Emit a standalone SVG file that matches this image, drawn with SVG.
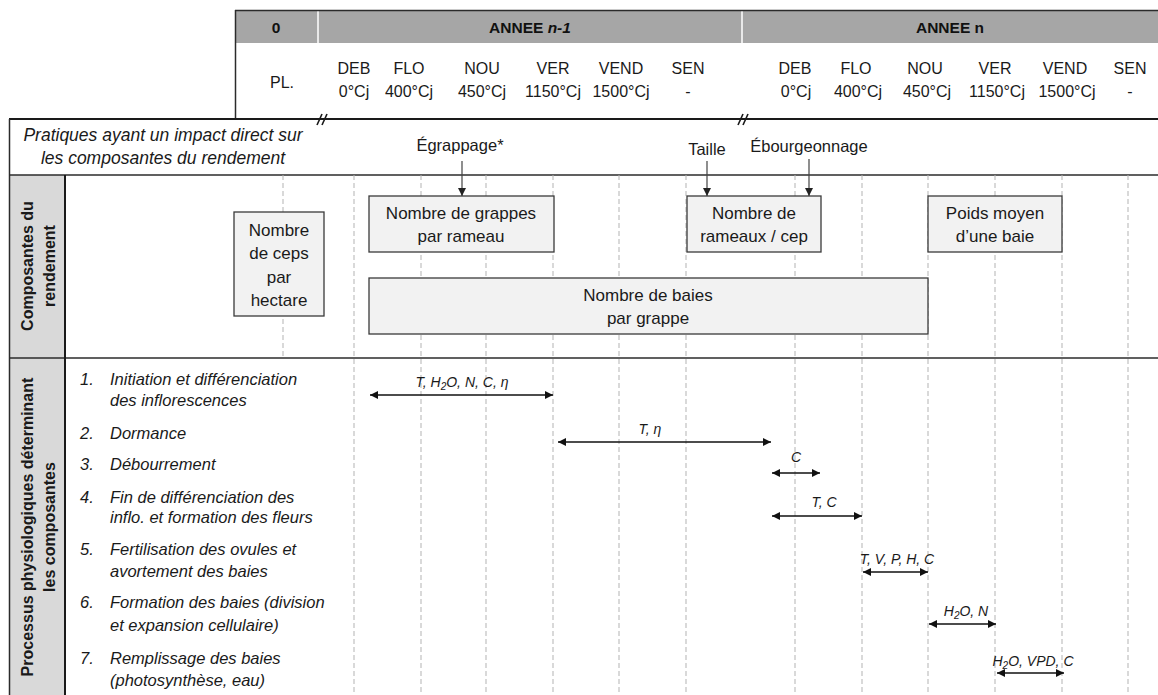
<svg xmlns="http://www.w3.org/2000/svg" width="1158" height="695" viewBox="0 0 1158 695">
<style>
text{font-family:"Liberation Sans",Arial,sans-serif;fill:#1a1a1a}
.h{font-size:16px;text-anchor:middle}
.hb{font-size:15.5px;font-weight:bold;text-anchor:middle;fill:#111}
.bx{fill:#f2f2f2;stroke:#3a3a3a;stroke-width:1.3}
.bt{font-size:17px;text-anchor:middle}
.pr{font-size:16.5px;text-anchor:middle}
.it{font-size:17.5px;font-style:italic;text-anchor:middle}
.li{font-size:16.5px;font-style:italic}
.vl{font-size:16px;font-weight:bold;text-anchor:middle}
.al{font-size:14px;font-style:italic;text-anchor:middle}
.dash{stroke:#b3b3b3;stroke-width:1;stroke-dasharray:5,3}
.rule{stroke:#2b2b2b;stroke-width:1.5;fill:none}
.dbl{stroke:#111;stroke-width:1.4;marker-start:url(#ah);marker-end:url(#ah)}
.dn{stroke:#444;stroke-width:1.2;marker-end:url(#ah2)}
</style>
<defs>
<marker id="ah" viewBox="0 0 10 10" refX="10" refY="5" markerWidth="9" markerHeight="8" markerUnits="userSpaceOnUse" orient="auto-start-reverse"><path d="M0,0 L10,5 L0,10 z" fill="#111"/></marker>
<marker id="ah2" viewBox="0 0 10 10" refX="10" refY="5" markerWidth="8" markerHeight="8" markerUnits="userSpaceOnUse" orient="auto"><path d="M0,0 L10,5 L0,10 z" fill="#222"/></marker>
</defs>
<rect width="1158" height="695" fill="#fff"/>

<!-- header -->
<g id="header">
<rect x="235" y="10" width="923" height="33" fill="#a6a6a6"/>
<line x1="318" y1="10" x2="318" y2="43" stroke="#fff" stroke-width="1.5"/>
<line x1="742" y1="10" x2="742" y2="43" stroke="#fff" stroke-width="1.5"/>
<line x1="235" y1="10.5" x2="1158" y2="10.5" class="rule"/>
<line x1="235.5" y1="10" x2="235.5" y2="119" class="rule"/>
<text x="276" y="33" class="hb">0</text>
<text x="530" y="33" class="hb">ANNEE <tspan font-style="italic">n-1</tspan></text>
<text x="950" y="33" class="hb">ANNEE n</text>
<text x="282" y="88" class="h">PL.</text>
<g class="h">
<text x="354" y="74" class="h">DEB</text><text x="354" y="97" class="h">0°Cj</text>
<text x="409" y="74" class="h">FLO</text><text x="409" y="97" class="h">400°Cj</text>
<text x="482" y="74" class="h">NOU</text><text x="482" y="97" class="h">450°Cj</text>
<text x="553" y="74" class="h">VER</text><text x="553" y="97" class="h">1150°Cj</text>
<text x="621" y="74" class="h">VEND</text><text x="621" y="97" class="h">1500°Cj</text>
<text x="688" y="74" class="h">SEN</text><text x="688" y="97" class="h">-</text>
<text x="795" y="74" class="h">DEB</text><text x="796" y="97" class="h">0°Cj</text>
<text x="856" y="74" class="h">FLO</text><text x="858" y="97" class="h">400°Cj</text>
<text x="925" y="74" class="h">NOU</text><text x="927" y="97" class="h">450°Cj</text>
<text x="995" y="74" class="h">VER</text><text x="997" y="97" class="h">1150°Cj</text>
<text x="1065" y="74" class="h">VEND</text><text x="1067" y="97" class="h">1500°Cj</text>
<text x="1130" y="74" class="h">SEN</text><text x="1130" y="97" class="h">-</text>
</g>
</g>

<!-- frame -->
<g id="frame">
<rect x="9" y="175" width="56" height="520" fill="#d9d9d9"/>
<line x1="9" y1="119" x2="1158" y2="119" stroke="#1a1a1a" stroke-width="2"/>
<line x1="9.5" y1="119" x2="9.5" y2="695" class="rule"/>
<line x1="9" y1="175" x2="1158" y2="175" class="rule"/>
<line x1="9" y1="358" x2="1158" y2="358" class="rule"/>
<line x1="65" y1="175" x2="65" y2="695" stroke="#1a1a1a" stroke-width="2"/>
<g stroke="#1a1a1a" stroke-width="1.6">
<line x1="317" y1="125" x2="322" y2="114"/><line x1="322" y1="125" x2="327" y2="114"/>
<line x1="738" y1="125" x2="743" y2="114"/><line x1="743" y1="125" x2="748" y2="114"/>
</g>
</g>

<!-- dashed grid -->
<g id="grid" class="dash">
<line x1="283" y1="175" x2="283" y2="358"/>
<line x1="354" y1="175" x2="354" y2="695"/>
<line x1="421" y1="175" x2="421" y2="695"/>
<line x1="486" y1="175" x2="486" y2="695"/>
<line x1="553" y1="175" x2="553" y2="695"/>
<line x1="619" y1="175" x2="619" y2="695"/>
<line x1="686" y1="175" x2="686" y2="695"/>
<line x1="795" y1="175" x2="795" y2="695"/>
<line x1="862" y1="175" x2="862" y2="695"/>
<line x1="928" y1="175" x2="928" y2="695"/>
<line x1="995" y1="175" x2="995" y2="695"/>
<line x1="1062" y1="175" x2="1062" y2="695"/>
<line x1="1128" y1="175" x2="1128" y2="695"/>
</g>

<!-- section labels -->
<g id="labels">
<text x="163" y="141" class="it">Pratiques ayant un impact direct sur</text>
<text x="163" y="164" class="it">les composantes du rendement</text>
<text transform="translate(33,266) rotate(-90)" class="vl">Composantes du</text>
<text transform="translate(55,266) rotate(-90)" class="vl">rendement</text>
<text transform="translate(33,527) rotate(-90)" class="vl">Processus physiologiques déterminant</text>
<text transform="translate(55,527) rotate(-90)" class="vl">les composantes</text>
</g>

<!-- practices -->
<g id="practices">
<text x="460" y="151" class="pr">Égrappage*</text>
<text x="707" y="155" class="pr">Taille</text>
<text x="809" y="152" class="pr">Ébourgeonnage</text>
</g>

<!-- component boxes -->
<g id="box-ceps">
<rect x="234" y="212" width="90" height="104" class="bx"/>
<text x="279" y="236" class="bt">Nombre</text>
<text x="279" y="259" class="bt">de ceps</text>
<text x="279" y="283" class="bt">par</text>
<text x="279" y="306" class="bt">hectare</text>
</g>
<g id="box-grappes">
<rect x="369" y="196" width="185" height="56" class="bx"/>
<text x="461" y="219" class="bt">Nombre de grappes</text>
<text x="461" y="242" class="bt">par rameau</text>
</g>
<g id="box-rameaux">
<rect x="687" y="196" width="134" height="56" class="bx"/>
<text x="754" y="219" class="bt">Nombre de</text>
<text x="754" y="242" class="bt">rameaux / cep</text>
</g>
<g id="box-poids">
<rect x="928" y="196" width="134" height="56" class="bx"/>
<text x="995" y="219" class="bt">Poids moyen</text>
<text x="995" y="242" class="bt">d’une baie</text>
</g>
<g id="box-baies">
<rect x="369" y="278" width="559" height="56" class="bx"/>
<text x="648" y="301" class="bt">Nombre de baies</text>
<text x="648" y="324" class="bt">par grappe</text>
</g>

<!-- processes -->
<g id="processes" class="li">
<text x="80" y="385" class="li">1.</text><text x="110" y="385" class="li">Initiation et différenciation</text>
<text x="110" y="406" class="li">des inflorescences</text>
<text x="80" y="439" class="li">2.</text><text x="110" y="439" class="li">Dormance</text>
<text x="80" y="470" class="li">3.</text><text x="110" y="470" class="li">Débourrement</text>
<text x="80" y="503" class="li">4.</text><text x="110" y="503" class="li">Fin de différenciation des</text>
<text x="110" y="523" class="li">inflo. et formation des fleurs</text>
<text x="80" y="555" class="li">5.</text><text x="110" y="555" class="li">Fertilisation des ovules et</text>
<text x="110" y="577" class="li">avortement des baies</text>
<text x="80" y="608" class="li">6.</text><text x="110" y="608" class="li">Formation des baies (division</text>
<text x="110" y="631" class="li">et expansion cellulaire)</text>
<text x="80" y="664" class="li">7.</text><text x="110" y="664" class="li">Remplissage des baies</text>
<text x="110" y="686" class="li">(photosynthèse, eau)</text>
</g>

<!-- connectors -->
<g id="connectors">
<line x1="462" y1="161" x2="462" y2="196" class="dn"/>
<line x1="707" y1="161" x2="707" y2="196" class="dn"/>
<line x1="809" y1="159" x2="809" y2="196" class="dn"/>
<line x1="370" y1="395" x2="553" y2="395" class="dbl"/>
<line x1="558" y1="442" x2="771" y2="442" class="dbl"/>
<line x1="772" y1="473" x2="820" y2="473" class="dbl"/>
<line x1="772" y1="516" x2="862" y2="516" class="dbl"/>
<line x1="863" y1="572" x2="928" y2="572" class="dbl"/>
<line x1="929" y1="624" x2="996" y2="624" class="dbl"/>
<line x1="997" y1="673" x2="1064" y2="673" class="dbl"/>
<text x="462" y="387" class="al">T, H<tspan dy="3" font-size="10">2</tspan><tspan dy="-3">O, N, C, η</tspan></text>
<text x="650" y="434" class="al">T, η</text>
<text x="796" y="462" class="al">C</text>
<text x="824" y="507" class="al">T, C</text>
<text x="897" y="564" class="al">T, V, P, H, C</text>
<text x="966" y="616" class="al">H<tspan dy="3" font-size="10">2</tspan><tspan dy="-3">O, N</tspan></text>
<text x="1033" y="666" class="al">H<tspan dy="3" font-size="10">2</tspan><tspan dy="-3">O, VPD, C</tspan></text>
</g>
</svg>
